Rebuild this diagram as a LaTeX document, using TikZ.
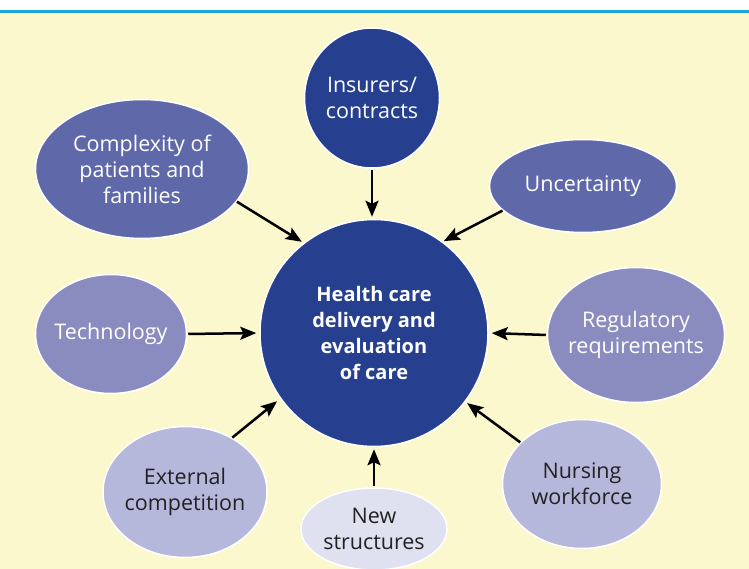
\documentclass[tikz,border=0pt]{standalone}
\usepackage{fontspec}
\setmainfont{Open Sans}
\usetikzlibrary{shapes.geometric,arrows.meta}
\definecolor{bgyellow}{HTML}{FAF8CC}
\definecolor{rulecyan}{HTML}{1BA5D8}
\definecolor{navy}{HTML}{263F8E}
\definecolor{midblue}{HTML}{5F69A9}
\definecolor{lavender}{HTML}{8A8BBF}
\definecolor{paleblue}{HTML}{B6B8DB}
\definecolor{mistblue}{HTML}{DFE1F0}
\definecolor{darktext}{HTML}{222222}
\tikzset{
  blob/.style={ellipse, draw=white, line width=1.5pt, inner sep=0pt},
  caption/.style={align=center, inner sep=0pt, font=\fontsize{21.5}{26}\selectfont},
  lighttext/.style={caption, text=white},
  darkfont/.style={caption, text=darktext},
  feed/.style={-{Stealth[length=16pt,width=13pt,inset=3pt]}, line width=2.5pt, black},
}
\begin{document}
\begin{tikzpicture}[x=1pt,y=-1pt]
  \useasboundingbox (0,0) rectangle (749,569);
  % backdrop and top rule
  \fill[white] (0,0) rectangle (749,11);
  \fill[bgyellow] (0,11) rectangle (749,569);
  \fill[rulecyan] (0,10) rectangle (749,12.6);

  % central circle
  \node[blob, fill=navy, minimum width=228pt, minimum height=227pt,
        label={[lighttext, font=\fontsize{20}{26}\selectfont\bfseries]center:{Health care\\delivery and\\evaluation\\of care}}]
        (core) at (374,333) {};

  % surrounding factors
  \node[blob, fill=navy, minimum width=135pt, minimum height=140pt,
        label={[lighttext]center:{Insurers/\\contracts}}] (ins) at (372,98) {};
  \node[blob, fill=midblue, minimum width=213pt, minimum height=139pt,
        label={[lighttext]center:{Complexity of\\patients and\\families}}] (cpx) at (142,169) {};
  \node[blob, fill=midblue, minimum width=187pt, minimum height=93pt,
        label={[lighttext]center:Uncertainty}] (unc) at (583,186) {};
  \node[blob, fill=lavender, minimum width=151pt, minimum height=119pt,
        label={[lighttext]center:Technology}] (tec) at (111,334) {};
  \node[blob, fill=lavender, minimum width=177pt, minimum height=135pt,
        label={[lighttext]center:{Regulatory\\requirements}}] (reg) at (636,335) {};
  \node[blob, fill=paleblue, minimum width=164pt, minimum height=131pt,
        label={[darkfont]center:{External\\competition}}] (ext) at (185,492) {};
  \node[blob, fill=paleblue, minimum width=159pt, minimum height=129pt,
        label={[darkfont]center:{Nursing\\workforce}}] (nur) at (582,484) {};
  \node[blob, fill=mistblue, minimum width=146pt, minimum height=82pt,
        label={[darkfont]center:{New\\structures}}] (new) at (374,529) {};

  % influences pointing at the centre
  \draw[feed, shorten <=1pt, shorten >=2pt] (ins.south) -- (ins.south |- core.north);
  \draw[feed, shorten >=2pt] (cpx.-19) -- (core.128);
  \draw[feed, shorten >=1pt] (unc.197) -- (core.53);
  \draw[feed, shorten <=1pt, shorten >=3pt] (tec.east) -- (core.west);
  \draw[feed, shorten <=1pt, shorten >=3pt] (reg.west) -- (core.east);
  \draw[feed, shorten >=4pt] (ext.49) -- (core.215);
  \draw[feed, shorten >=2pt] (nur.146) -- (core.-37);
  \draw[feed, shorten <=1pt, shorten >=2pt] (new.north) -- (core.south);
\end{tikzpicture}
\end{document}
